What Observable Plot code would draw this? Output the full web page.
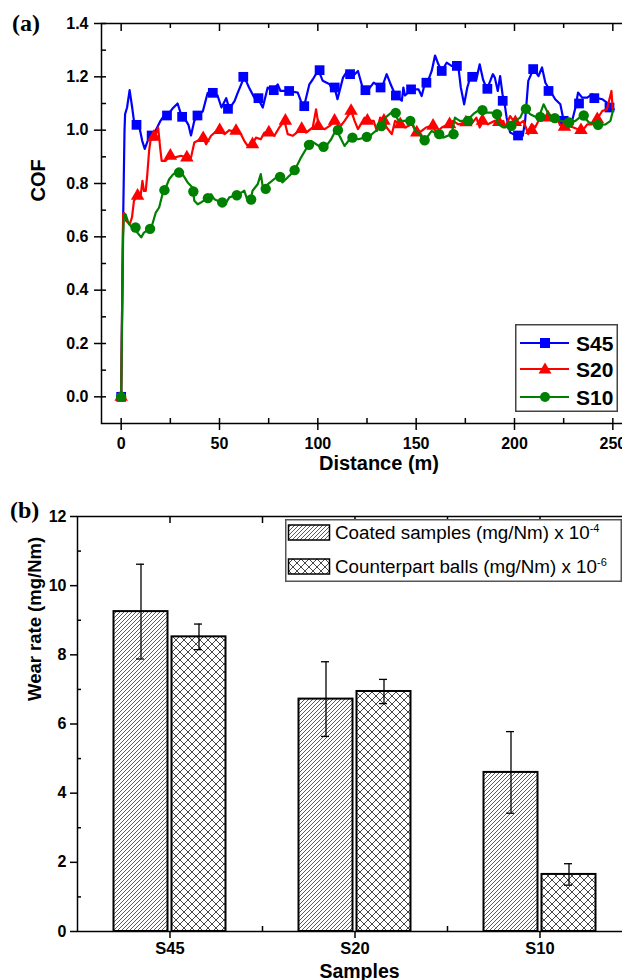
<!DOCTYPE html>
<html><head><meta charset="utf-8">
<script src="https://cdn.jsdelivr.net/npm/d3@7"></script>
<script src="https://cdn.jsdelivr.net/npm/@observablehq/plot@0.6"></script>
<style>
html,body{margin:0;padding:0;background:#fff;overflow:hidden;}
#fig{position:relative;width:622px;height:980px;overflow:hidden;background:#fff;font-family:"Liberation Sans",Arial,sans-serif;}
.abs{position:absolute;}
.plab{position:absolute;font-family:"Liberation Serif","Times New Roman",serif;font-weight:bold;font-size:24px;line-height:1;}
</style></head><body>
<div id="fig">
<svg width="0" height="0" style="position:absolute;left:0;top:0"><defs>
<pattern id="hatch" patternUnits="userSpaceOnUse" width="4" height="4">
<path d="M-1,1 L1,-1 M0,4 L4,0 M3,5 L5,3" stroke="#333" stroke-width="0.8"/>
</pattern>
<pattern id="cross" patternUnits="userSpaceOnUse" width="8" height="8">
<path d="M0,0 L8,8 M8,0 L0,8" stroke="#333" stroke-width="0.9"/>
</pattern>
</defs></svg>
<div id="pa" class="abs" style="left:0;top:0;width:632px"></div>
<div id="pb" class="abs" style="left:0;top:480px;width:632px"></div>
<div class="plab" style="left:12px;top:11px">(a)</div>
<div class="plab" style="left:10px;top:498px">(b)</div>
<svg class="abs" style="left:515px;top:324px" width="104" height="89">
<rect x="0.75" y="0.75" width="101.5" height="86.5" fill="#fff" stroke="#444" stroke-width="1.5"/>
<line x1="5" x2="54" y1="19" y2="19" stroke="#0000ff" stroke-width="2"/>
<rect x="25" y="14" width="10" height="10" fill="#0000ff"/>
<text x="61" y="26.5" font-family="Liberation Sans,Arial,sans-serif" font-weight="bold" font-size="21">S45</text>
<line x1="5" x2="54" y1="45" y2="45" stroke="#ff0000" stroke-width="2"/>
<path d="M30,38.5 L36.5,49.5 L23.5,49.5 Z" fill="#ff0000"/>
<text x="61" y="52.5" font-family="Liberation Sans,Arial,sans-serif" font-weight="bold" font-size="21">S20</text>
<line x1="5" x2="54" y1="73" y2="73" stroke="#008000" stroke-width="2"/>
<circle cx="30" cy="73" r="5" fill="#008000"/>
<text x="61" y="80.5" font-family="Liberation Sans,Arial,sans-serif" font-weight="bold" font-size="21">S10</text>
</svg>
<svg class="abs" style="left:285px;top:519px" width="338" height="64">
<rect x="0.75" y="0.75" width="335.5" height="61.5" fill="#fff" stroke="#555" stroke-width="1.5"/>
<rect x="3.5" y="6" width="41" height="15" fill="url(#hatch)" stroke="#000" stroke-width="1.5"/>
<text x="50" y="20" font-family="Liberation Sans,Arial,sans-serif" font-size="18.8">Coated samples (mg/Nm) x 10<tspan dy="-7" font-size="11">-4</tspan></text>
<rect x="3.5" y="40" width="41" height="15" fill="url(#cross)" stroke="#000" stroke-width="1.5"/>
<text x="50" y="54" font-family="Liberation Sans,Arial,sans-serif" font-size="18.8">Counterpart balls (mg/Nm) x 10<tspan dy="-7" font-size="11">-6</tspan></text>
</svg>
</div>
<script>
// ---------- Panel (a): COF vs distance ----------
const s45Line = [[0,0],[0.5,0.35],[1,0.66],[1.7,1.0],[2,1.06],[3,1.085],[4.3,1.15],[5.6,1.085],[6.5,1.035],[7.3,1.016],[9,1.02],[10.7,0.96],[12,0.93],[14,0.97],[15,0.98],[17.6,1.0],[20,1.035],[21.8,1.055],[23.5,1.055],[26,1.08],[28.7,1.10],[30.4,1.06],[33,1.035],[34.2,1.02],[35.5,0.98],[37.2,1.035],[39,1.055],[41.5,1.07],[44,1.14],[46.6,1.14],[49,1.13],[51,1.085],[53.4,1.12],[55,1.08],[57.7,1.11],[59,1.135],[62.6,1.2],[65,1.16],[67.7,1.122],[69.4,1.122],[72,1.085],[74.5,1.16],[77,1.147],[79.6,1.172],[81,1.147],[85.5,1.147],[89.8,1.141],[92,1.097],[93,1.09],[95.7,1.172],[97.4,1.19],[100.3,1.225],[102.5,1.185],[106,1.172],[107.5,1.147],[108.5,1.16],[110,1.116],[112.8,1.197],[115,1.222],[117.9,1.203],[120.4,1.222],[123,1.153],[125,1.141],[125.8,1.153],[128.4,1.178],[132.6,1.16],[135,1.21],[136.7,1.178],[138.5,1.147],[140.2,1.128],[142.7,1.11],[143.5,1.16],[144.3,1.13],[147.8,1.153],[151.2,1.153],[152.8,1.128],[154.5,1.178],[155.7,1.178],[157.9,1.222],[159.6,1.28],[161.3,1.247],[163,1.222],[165.5,1.253],[168,1.241],[171.4,1.241],[172.7,1.16],[174.4,1.097],[176,1.16],[178,1.21],[180.6,1.19],[182.3,1.247],[184,1.19],[186,1.153],[189,1.21],[190,1.197],[191.5,1.147],[192.7,1.203],[193.9,1.135],[194.9,1.103],[196,1.047],[197.8,0.991],[199.5,0.985],[203,0.979],[204.2,0.979],[205.4,1.035],[207,1.185],[208.5,1.21],[209.7,1.229],[212.2,1.203],[214,1.235],[215.7,1.178],[218.2,1.147],[220.7,1.116],[223.3,1.097],[225,1.035],[226.7,1.029],[229.3,1.035],[231,1.085],[232.3,1.141],[234.4,1.122],[237,1.122],[239.5,1.135],[241,1.122],[244.6,1.116],[247,1.103],[248.7,1.09],[250.5,1.078]];
const s20Line = [[0,0],[0.5,0.35],[1,0.685],[1.4,0.69],[2.5,0.66],[4.4,0.648],[5.5,0.673],[6.5,0.735],[8.2,0.754],[9.9,0.754],[10.8,0.81],[11.6,0.772],[12.5,0.772],[13.3,0.835],[14.2,0.922],[15,0.966],[15.9,0.966],[17.6,0.985],[18.8,1.01],[19.8,0.935],[20.6,0.885],[22.6,0.885],[25,0.904],[27,0.897],[30.4,0.904],[33.4,0.897],[35.5,0.897],[37.2,0.954],[38.9,0.96],[41.5,0.975],[43.2,0.947],[45.7,0.979],[49,1.0],[52.6,0.985],[55,1.0],[56,0.997],[58.3,0.997],[60.9,0.985],[62.6,0.96],[64.3,0.941],[66.8,0.947],[68.5,0.972],[71,0.966],[72.8,0.991],[75.3,0.991],[77.9,0.979],[80.4,1.01],[83,1.035],[84.7,0.985],[87.2,0.979],[91.5,1.004],[94,0.991],[97.4,1.01],[99.1,1.078],[100.3,1.02],[100.8,1.01],[103.5,1.004],[106,1.016],[108.8,1.035],[111,1.01],[113.6,1.035],[117,1.072],[118.7,1.035],[120.4,1.004],[123.8,1.047],[125.8,1.035],[128.4,1.035],[130,0.997],[131.7,1.047],[133.4,1.035],[135,1.01],[137.6,0.985],[139.3,1.035],[141.9,1.022],[144.4,1.01],[147.8,1.022],[150.3,0.991],[152.8,0.997],[155,1.01],[157.9,1.016],[160.4,0.991],[163,1.01],[166.3,1.022],[168.8,1.035],[171.4,1.022],[175.6,1.029],[178,1.022],[180.6,1.047],[182.3,1.01],[184,1.035],[186.5,1.022],[190,1.035],[191.7,1.022],[194.3,1.035],[195.2,1.01],[197.8,1.053],[199.5,1.035],[202,1.022],[204.6,1.035],[207,0.985],[208.8,1.022],[210.5,1.01],[213,1.047],[216.5,1.047],[219,1.035],[221.6,1.041],[224,1.01],[227.4,1.016],[230,1.01],[234.4,0.997],[237,1.022],[239.5,1.022],[242,1.041],[244.6,1.072],[247,1.078],[249.3,1.147],[250,1.072]];
const s10Line = [[0,0],[0.5,0.3],[1,0.6],[1.4,0.679],[2.2,0.685],[3.9,0.648],[5,0.64],[6.5,0.635],[8.2,0.616],[10.2,0.598],[11.6,0.616],[14.2,0.629],[15.9,0.648],[17.6,0.691],[19.3,0.71],[21,0.76],[22.7,0.785],[24.4,0.816],[26.5,0.835],[28.7,0.841],[31.2,0.835],[33.8,0.804],[36.3,0.785],[37.2,0.735],[38.9,0.722],[40.6,0.729],[43.2,0.741],[45.7,0.76],[47.4,0.741],[50.9,0.729],[53.4,0.729],[55,0.748],[57.7,0.754],[60,0.76],[62.6,0.773],[64.3,0.735],[65.5,0.729],[66.8,0.773],[69.4,0.797],[71,0.835],[72.3,0.773],[74.5,0.797],[79.9,0.829],[82,0.804],[87.2,0.841],[89.8,0.873],[91.5,0.898],[94.6,0.937],[96.6,0.96],[101.7,0.935],[104.3,0.941],[106.8,0.966],[109.4,1.004],[111,0.979],[113.6,0.941],[116.2,0.966],[117,0.972],[120.4,0.966],[124,0.972],[126.7,0.979],[128.4,0.991],[131.7,1.01],[134.3,1.047],[138.5,1.072],[141,1.035],[145.2,1.035],[147.8,1.035],[149.5,0.997],[152,0.985],[153.3,0.96],[155.4,0.972],[157.9,0.997],[160.9,0.985],[163.7,0.972],[168,0.985],[169.7,1.047],[172.2,1.035],[175.6,1.035],[179,1.06],[182.3,1.078],[184.8,1.066],[188.2,1.066],[190.1,1.06],[191.8,1.022],[194.4,1.01],[197.8,1.016],[200.3,1.035],[202.9,1.047],[205.1,1.082],[208,1.06],[212.2,1.045],[214.8,1.097],[217.3,1.06],[219.9,1.047],[223.3,1.035],[227.6,1.029],[231,1.035],[234.7,1.057],[237.8,1.029],[242.5,1.02],[246.3,1.022],[248.8,1.035],[250,1.072]];

const s45Marks = [[0,0],[7.8,1.02],[15.5,0.98],[23.3,1.055],[31,1.05],[38.8,1.055],[46.6,1.14],[54.3,1.08],[62.1,1.2],[69.8,1.12],[77.6,1.15],[85.4,1.147],[93.1,1.09],[100.9,1.225],[108.6,1.16],[116.4,1.21],[124.2,1.15],[131.9,1.16],[139.7,1.13],[147.4,1.153],[155.2,1.178],[163,1.222],[170.7,1.241],[178.5,1.2],[186.2,1.155],[194,1.11],[201.8,0.98],[209.5,1.229],[217.3,1.147],[225,1.035],[232.8,1.1],[240.6,1.12],[248.3,1.085]];
const s20Marks = [[0,0],[8.35,0.754],[16.7,0.975],[25,0.904],[33.4,0.897],[41.7,0.97],[50.1,1.0],[58.4,0.997],[66.8,0.947],[75.1,0.991],[83.5,1.035],[91.8,1.004],[100.2,1.015],[108.5,1.035],[116.9,1.072],[125.2,1.035],[133.6,1.035],[141.9,1.022],[150.3,0.991],[158.6,1.016],[167,1.022],[175.3,1.029],[183.7,1.035],[192,1.03],[200.4,1.03],[208.7,1.0],[217.1,1.047],[225.4,1.012],[233.8,1.0],[242.1,1.041]];
const s10Marks = [[0,0],[7.3,0.635],[14.7,0.63],[22,0.775],[29.4,0.841],[36.7,0.77],[44.1,0.745],[51.4,0.729],[58.8,0.756],[66.1,0.74],[73.5,0.78],[80.8,0.825],[88.2,0.85],[95.5,0.945],[102.9,0.938],[110.2,1.0],[117.6,0.972],[124.9,0.975],[132.3,1.015],[139.6,1.065],[147,1.035],[154.3,0.962],[161.7,0.985],[169,0.985],[176.4,1.035],[183.7,1.075],[191.1,1.06],[198.4,1.016],[205.8,1.08],[213.1,1.05],[220.5,1.045],[227.8,1.029],[235.2,1.055],[242.5,1.02]];

const xMajorA = [0, 50, 100, 150, 200, 250];
const xMinorA = [25, 75, 125, 175, 225];
const yMajorA = [0, 0.2, 0.4, 0.6, 0.8, 1.0, 1.2, 1.4];
const yMinorA = [0.1, 0.3, 0.5, 0.7, 0.9, 1.1, 1.3];

// ---------- Panel (b): wear rates ----------
const samples = ["S45", "S20", "S10"];
const coatedWear = [9.25, 6.72, 4.60];
const coatedErr = [1.37, 1.08, 1.18];
const ballWear = [8.52, 6.94, 1.65];
const ballErr = [0.37, 0.35, 0.31];
const yMajorB = [0, 2, 4, 6, 8, 10, 12];
const yMinorB = [1, 3, 5, 7, 9, 11];

const FONT = "'Liberation Sans', Arial, Helvetica, sans-serif";
const BLUE = "#0000ff", RED = "#ff0000", GREEN = "#008000";
const px = d => d[0], py = d => d[1];

const plotA = Plot.plot({
  width: 632, height: 480,
  marginLeft: 101, marginRight: 0, marginTop: 23, marginBottom: 57,
  style: {fontFamily: FONT, color: "black", background: "transparent", maxWidth: "none", overflow: "visible"},
  x: {domain: [-10, 260]},
  y: {domain: [-0.1, 1.4]},
  marks: [
    Plot.line(s45Line, {x: px, y: py, stroke: BLUE, strokeWidth: 2.2, strokeLinejoin: "round"}),
    Plot.dot(s45Marks, {x: px, y: py, symbol: "square", fill: BLUE, r: 5.5}),
    Plot.line(s20Line, {x: px, y: py, stroke: RED, strokeWidth: 2.2, strokeLinejoin: "round"}),
    Plot.dot(s20Marks, {x: px, y: py, symbol: "triangle", fill: RED, r: 5}),
    Plot.line(s10Line, {x: px, y: py, stroke: GREEN, strokeWidth: 2.2, strokeLinejoin: "round"}),
    Plot.dot(s10Marks, {x: px, y: py, symbol: "circle", fill: GREEN, r: 5.2}),
    Plot.frame({stroke: "black", strokeWidth: 1.5}),
    Plot.axisY({ticks: yMajorA, tickSize: 7, tickPadding: 6, tickFormat: d3.format(".1f"), fontSize: 16, fontWeight: "bold", label: null, strokeWidth: 1.5}),
    Plot.axisY({ticks: yMajorA.concat(yMinorA), tickSize: 5, dx: 5, fill: "none", strokeWidth: 1.5}),
    Plot.axisX({ticks: xMajorA, tickSize: 7, tickPadding: 7, tickFormat: d => String(d), fontSize: 16, fontWeight: "bold", label: null, strokeWidth: 1.5}),
    Plot.axisX({ticks: xMajorA.concat(xMinorA), tickSize: 5, dy: -5, fill: "none", strokeWidth: 1.5}),
    Plot.axisX({anchor: "top", ticks: xMajorA, tickSize: 7, dy: 7, fill: "none", strokeWidth: 1.5}),
    Plot.axisX({anchor: "top", ticks: xMinorA, tickSize: 4, dy: 4, fill: "none", strokeWidth: 1.5}),
    Plot.text(["Distance (m)"], {frameAnchor: "bottom", text: d => d, dx: 12, dy: 46, fontSize: 20, fontWeight: "bold"}),
    Plot.text(["COF"], {frameAnchor: "left", text: d => d, rotate: -90, dx: -63, dy: -22, fontSize: 20, fontWeight: "bold"})
  ]
});
document.getElementById("pa").appendChild(plotA);

const coatedRows = samples.map((s, i) => ({sample: s, value: coatedWear[i], err: coatedErr[i]}));
const ballRows = samples.map((s, i) => ({sample: s, value: ballWear[i], err: ballErr[i]}));

const plotB = Plot.plot({
  width: 632, height: 500,
  marginLeft: 77, marginRight: 0, marginTop: 36, marginBottom: 49,
  style: {fontFamily: FONT, color: "black", background: "transparent", maxWidth: "none", overflow: "visible"},
  x: {type: "band", domain: samples, padding: 0},
  y: {domain: [0, 12]},
  marks: [
    Plot.barY(coatedRows, {x: "sample", y: "value", fill: "url(#hatch)", stroke: "black", strokeWidth: 2, insetLeft: 36.5, insetRight: 94.5}),
    Plot.barY(ballRows, {x: "sample", y: "value", fill: "url(#cross)", stroke: "black", strokeWidth: 2, insetLeft: 94.5, insetRight: 36.5}),
    Plot.ruleX(coatedRows, {x: "sample", y1: d => d.value - d.err, y2: d => d.value + d.err, dx: -29, stroke: "black", strokeWidth: 1.3}),
    Plot.tickY(coatedRows, {x: "sample", y: d => d.value - d.err, insetLeft: 59, insetRight: 118, stroke: "black", strokeWidth: 1.3}),
    Plot.tickY(coatedRows, {x: "sample", y: d => d.value + d.err, insetLeft: 59, insetRight: 118, stroke: "black", strokeWidth: 1.3}),
    Plot.ruleX(ballRows, {x: "sample", y1: d => d.value - d.err, y2: d => d.value + d.err, dx: 29, stroke: "black", strokeWidth: 1.3}),
    Plot.tickY(ballRows, {x: "sample", y: d => d.value - d.err, insetLeft: 117, insetRight: 60, stroke: "black", strokeWidth: 1.3}),
    Plot.tickY(ballRows, {x: "sample", y: d => d.value + d.err, insetLeft: 117, insetRight: 60, stroke: "black", strokeWidth: 1.3}),
    Plot.frame({stroke: "black", strokeWidth: 1.5}),
    Plot.axisY({ticks: yMajorB, tickSize: 7, tickPadding: 4, fontSize: 16, fontWeight: "bold", label: null, strokeWidth: 1.5}),
    Plot.axisY({ticks: yMinorB, tickSize: 4, dx: 4, fill: "none", strokeWidth: 1.5}),
    Plot.axisX({ticks: samples, tickSize: 7, tickPadding: 4, fontSize: 16.5, fontWeight: "bold", label: null, strokeWidth: 1.5}),
    Plot.axisX({ticks: ["S45", "S20"], tickSize: 5, dx: 92.5, dy: -5, fill: "none", strokeWidth: 1.5}),
    Plot.axisX({anchor: "top", ticks: samples, tickSize: 6, dy: 6, fill: "none", strokeWidth: 1.5}),
    Plot.axisX({anchor: "top", ticks: ["S45", "S20"], tickSize: 6, dx: 92.5, dy: 6, fill: "none", strokeWidth: 1.5}),
    Plot.text(["Samples"], {frameAnchor: "bottom", text: d => d, dx: 4.5, dy: 46, fontSize: 19.5, fontWeight: "bold"}),
    Plot.text(["Wear rate (mg/Nm)"], {frameAnchor: "left", text: d => d, rotate: -90, dx: -42, dy: -23, fontSize: 18.5, fontWeight: "bold"})
  ]
});
document.getElementById("pb").appendChild(plotB);
</script>
</body></html>
